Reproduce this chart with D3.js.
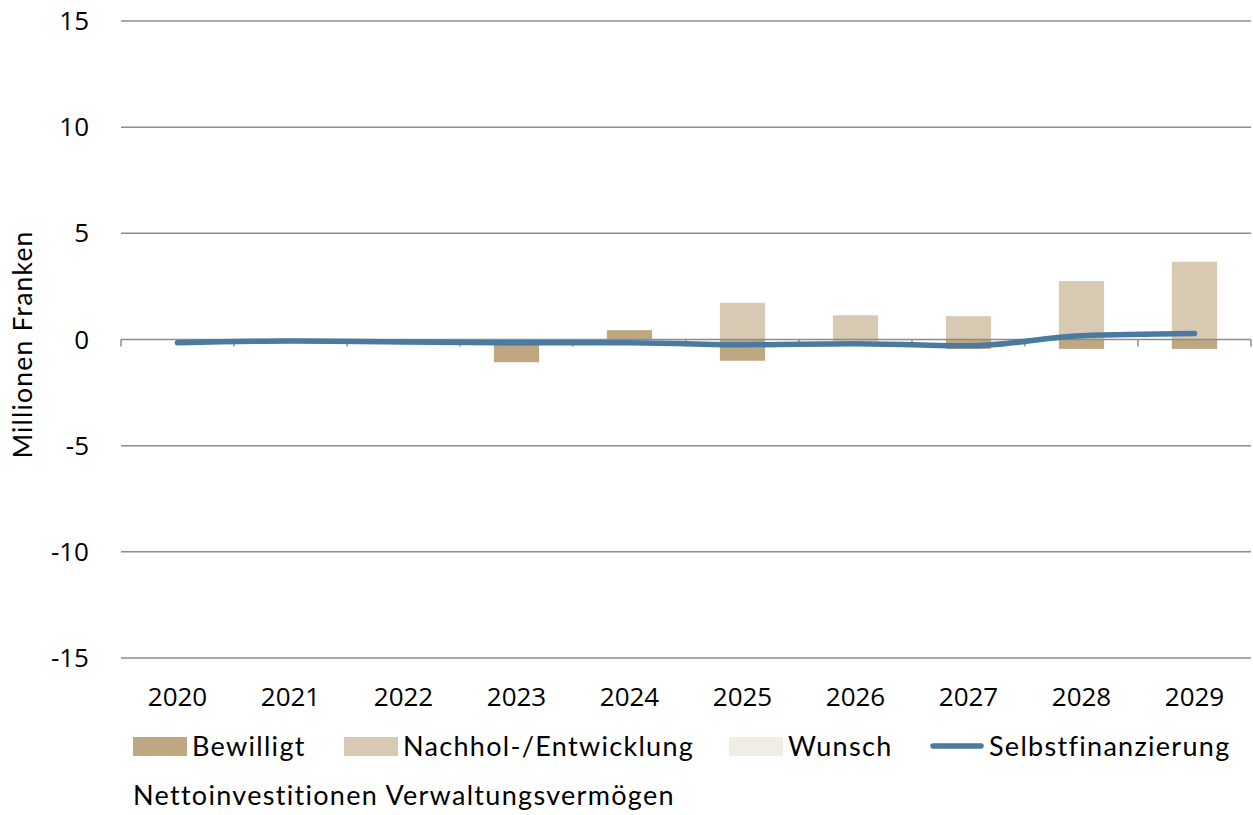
<!DOCTYPE html>
<html>
<head>
<meta charset="utf-8">
<script src="https://cdn.jsdelivr.net/npm/d3@7"></script>
<style>
  body { margin:0; background:#fff; }
  svg text { fill:#000; }
</style>
</head>
<body>
<svg id="chart" width="1253" height="815"></svg>
<script>
// ==================== DATA ====================
const years = ["2020","2021","2022","2023","2024","2025","2026","2027","2028","2029"];
const bewilligt = [0, 0, 0, -1.07, 0.44, -1.0, -0.05, -0.44, -0.44, -0.44];
const nachhol   = [0, 0, 0, 0, 0, 1.73, 1.14, 1.1, 2.75, 3.66];
const wunsch    = [0, 0, 0, 0, 0, 0, 0, 0, 0, 0];
const selbst    = [-0.15, -0.07, -0.12, -0.15, -0.15, -0.25, -0.2, -0.3, 0.18, 0.28];
const yTicks = [-15, -10, -5, 0, 5, 10, 15];

const seriesNames = ["Bewilligt", "Nachhol-/Entwicklung", "Wunsch"];
const colors = ["#BEA781", "#D8CAB2", "#F1ECE5"];
const lineColor = "#4A7A9F";

// ==================== LAYOUT ====================
const svg = d3.select("#chart");
const plotL = 121, plotR = 1251, plotT = 21, plotB = 658;

const x = d3.scaleBand().domain(years).range([plotL, plotR]).paddingInner(0.6).paddingOuter(0.3);
const xb = d3.scaleBand().domain(years).range([plotL, plotR]);
const y = d3.scaleLinear().domain([-15, 15]).range([plotB, plotT]);

// gridlines
svg.append("g")
  .selectAll("line")
  .data(yTicks.filter(d => d !== 0))
  .join("line")
  .attr("x1", plotL).attr("x2", plotR)
  .attr("y1", d => y(d)).attr("y2", d => y(d))
  .attr("stroke", "#8c8c8c").attr("stroke-width", 1.5);

// y labels
svg.append("g")
  .selectAll("text")
  .data(yTicks)
  .join("text")
  .attr("x", 89).attr("y", d => y(d)).attr("dy", "0.35em")
  .attr("text-anchor", "end")
  .style("font-family", "'Open Sans', sans-serif").style("font-size", "26px")
  .text(d => d);

// y title
svg.append("text")
  .attr("transform", `translate(32,${(plotT+plotB)/2 + 5}) rotate(-90)`)
  .attr("text-anchor", "middle")
  .style("font-family", "Lato, sans-serif").style("font-size", "26.5px")
  .style("letter-spacing", "1.2px")
  .text("Millionen Franken");

// ==================== BARS ====================
const rows = years.map((yr, i) => ({ year: yr, Bewilligt: bewilligt[i], "Nachhol-/Entwicklung": nachhol[i], Wunsch: wunsch[i] }));
const stack = d3.stack().keys(seriesNames).offset(d3.stackOffsetDiverging);
const layers = stack(rows);

svg.append("g")
  .selectAll("g")
  .data(layers)
  .join("g")
  .attr("fill", (d, i) => colors[i])
  .selectAll("rect")
  .data(d => d)
  .join("rect")
  .attr("x", d => x(d.data.year))
  .attr("width", x.bandwidth())
  .attr("y", d => y(Math.max(d[0], d[1])))
  .attr("height", d => Math.abs(y(d[0]) - y(d[1])));

// zero axis with ticks
const axis = svg.append("g").attr("transform", `translate(0,${y(0)})`);
axis.append("line").attr("x1", plotL).attr("x2", plotR).attr("stroke", "#8c8c8c").attr("stroke-width", 1.5);
axis.selectAll("line.tick")
  .data(years.concat(["end"]))
  .join("line")
  .attr("class", "tick")
  .attr("x1", (d, i) => plotL + i * xb.bandwidth())
  .attr("x2", (d, i) => plotL + i * xb.bandwidth())
  .attr("y1", 0).attr("y2", 7)
  .attr("stroke", "#8c8c8c").attr("stroke-width", 1.5);

// ==================== LINE ====================
const line = d3.line()
  .x((d, i) => xb(years[i]) + xb.bandwidth() / 2)
  .y(d => y(d))
  .curve(d3.curveMonotoneX);

svg.append("path")
  .datum(selbst)
  .attr("fill", "none")
  .attr("stroke", lineColor)
  .attr("stroke-width", 5.5)
  .attr("stroke-linecap", "round")
  .attr("stroke-linejoin", "round")
  .attr("d", line);

// x labels
svg.append("g")
  .selectAll("text")
  .data(years)
  .join("text")
  .attr("x", d => xb(d) + xb.bandwidth() / 2)
  .attr("y", 697).attr("dy", "0.35em")
  .attr("text-anchor", "middle")
  .style("font-family", "'Open Sans', sans-serif").style("font-size", "26px")
  .text(d => d);

// ==================== LEGEND ====================
const legendItems = [
  { name: "Bewilligt", x: 133, type: "rect", color: colors[0] },
  { name: "Nachhol-/Entwicklung", x: 344, type: "rect", color: colors[1] },
  { name: "Wunsch", x: 729, type: "rect", color: colors[2] },
  { name: "Selbstfinanzierung", x: 930, type: "line", color: lineColor }
];
const lg = svg.append("g");
legendItems.forEach(it => {
  if (it.type === "rect") {
    lg.append("rect").attr("x", it.x).attr("y", 737).attr("width", 54).attr("height", 19).attr("fill", it.color);
  } else {
    lg.append("line").attr("x1", it.x + 3).attr("x2", it.x + 51).attr("y1", 746).attr("y2", 746)
      .attr("stroke", it.color).attr("stroke-width", 5.5).attr("stroke-linecap", "round");
  }
  lg.append("text")
    .attr("x", it.x + 59).attr("y", 747).attr("dy", "0.35em")
    .style("font-family", "Lato, sans-serif").style("font-size", "27px")
    .style("letter-spacing", "1.3px")
    .text(it.name);
});

svg.append("text")
  .attr("x", 133).attr("y", 796).attr("dy", "0.35em")
  .style("font-family", "Lato, sans-serif").style("font-size", "27px")
  .style("letter-spacing", "1.3px")
  .text("Nettoinvestitionen Verwaltungsvermögen");
</script>
</body>
</html>
